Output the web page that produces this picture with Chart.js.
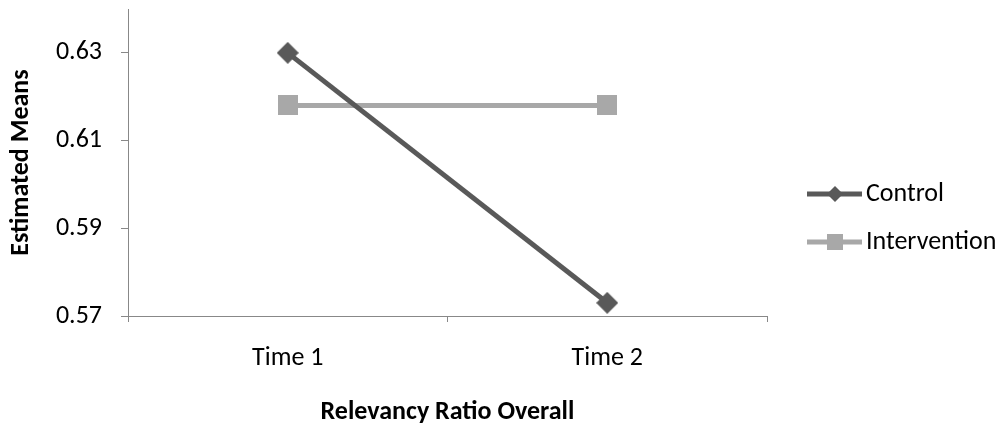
<!DOCTYPE html>
<html>
<head>
<meta charset="utf-8">
<script src="https://cdn.jsdelivr.net/npm/chart.js@4.4.1/dist/chart.umd.min.js"></script>
<style>
  body { margin: 0; background: #fff; }
  #wrap { width: 1005px; height: 430px; }
</style>
</head>
<body>
<div id="wrap"><canvas id="grafico" width="1005" height="430"></canvas></div>
<script>
// dados
const categorias = ['Time 1', 'Time 2'];
const controle = [0.630, 0.573];
const intervencao = [0.618, 0.618];
const yTicks = [0.57, 0.59, 0.61, 0.63];

const fonte = 'Calibri, Carlito, Lato, sans-serif';
const corEixo = '#888888';
const corControle = '#595959';
const corIntervencao = '#a8a8a8';

// marcadores como pequenas imagens (losango e quadrado)
function marcador(forma, cor, tam) {
  const c = document.createElement('canvas');
  c.width = tam;
  c.height = tam;
  const g = c.getContext('2d');
  g.fillStyle = cor;
  const m = tam / 2;
  if (forma === 'diamond') {
    g.beginPath();
    g.moveTo(m, 0);
    g.lineTo(tam, m);
    g.lineTo(m, tam);
    g.lineTo(0, m);
    g.closePath();
    g.fill();
  } else {
    g.fillRect(0, 0, tam, tam);
  }
  return c;
}

// legenda desenhada à mão (linha + marcador + texto)
const legendaPlugin = {
  id: 'legendaManual',
  afterDraw(chart) {
    const ctx = chart.ctx;
    const itens = [
      { texto: 'Control', cor: corControle, forma: 'diamond', y: 194 },
      { texto: 'Intervention', cor: corIntervencao, forma: 'square', y: 242 }
    ];
    ctx.save();
    itens.forEach(it => {
      ctx.strokeStyle = it.cor;
      ctx.fillStyle = it.cor;
      ctx.lineWidth = 5;
      ctx.beginPath();
      ctx.moveTo(807, it.y);
      ctx.lineTo(862, it.y);
      ctx.stroke();
      ctx.beginPath();
      if (it.forma === 'diamond') {
        ctx.moveTo(835, it.y - 8);
        ctx.lineTo(843, it.y);
        ctx.lineTo(835, it.y + 8);
        ctx.lineTo(827, it.y);
        ctx.closePath();
      } else {
        ctx.rect(827, it.y - 8, 16, 16);
      }
      ctx.fill();
      ctx.fillStyle = '#000';
      ctx.font = '26px ' + fonte;
      ctx.textBaseline = 'middle';
      ctx.textAlign = 'left';
      ctx.fillText(it.texto, 866, it.y);
    });
    ctx.restore();
  }
};

const ctx = document.getElementById('grafico').getContext('2d');
new Chart(ctx, {
  type: 'line',
  data: {
    labels: categorias,
    datasets: [
      {
        label: 'Control',
        data: controle,
        borderColor: corControle,
        backgroundColor: corControle,
        borderWidth: 5,
        pointStyle: marcador('diamond', corControle, 22),
        pointRadius: 8,
        tension: 0,
        clip: false
      },
      {
        label: 'Intervention',
        data: intervencao,
        borderColor: corIntervencao,
        backgroundColor: corIntervencao,
        borderWidth: 5,
        pointStyle: marcador('square', corIntervencao, 20),
        pointRadius: 8,
        tension: 0,
        clip: false
      }
    ]
  },
  options: {
    responsive: false,
    animation: false,
    events: [],
    layout: { autoPadding: false, padding: { top: 9, right: 238, bottom: 0, left: 0 } },
    plugins: {
      legend: { display: false },
      tooltip: { enabled: false }
    },
    scales: {
      x: {
        offset: true,
        grid: { offset: true, drawOnChartArea: false, tickLength: 6, color: corEixo },
        border: { color: corEixo, width: 1 },
        ticks: { color: '#000', font: { family: fonte, size: 26 }, padding: 21 },
        title: {
          display: true,
          text: 'Relevancy Ratio Overall',
          color: '#000',
          font: { family: fonte, size: 26, weight: 'bold' },
          padding: { top: 0, bottom: 2 }
        },
        afterFit(s) { s.height = 114; s.paddingLeft = 0; s.paddingRight = 0; }
      },
      y: {
        min: 0.57,
        max: 0.64,
        afterBuildTicks(s) { s.ticks = yTicks.map(v => ({ value: v })); },
        grid: { drawOnChartArea: false, tickLength: 7, color: corEixo },
        border: { color: corEixo, width: 1 },
        ticks: {
          color: '#000',
          font: { family: fonte, size: 26 },
          padding: 19,
          callback: v => v.toFixed(2)
        },
        title: {
          display: true,
          text: 'Estimated Means',
          color: '#000',
          font: { family: fonte, size: 26, weight: 'bold' },
          padding: { top: 6, bottom: 0 }
        },
        afterFit(s) { s.width = 128; s.paddingTop = 0; s.paddingBottom = 0; }
      }
    }
  },
  plugins: [legendaPlugin]
});
</script>
</body>
</html>
